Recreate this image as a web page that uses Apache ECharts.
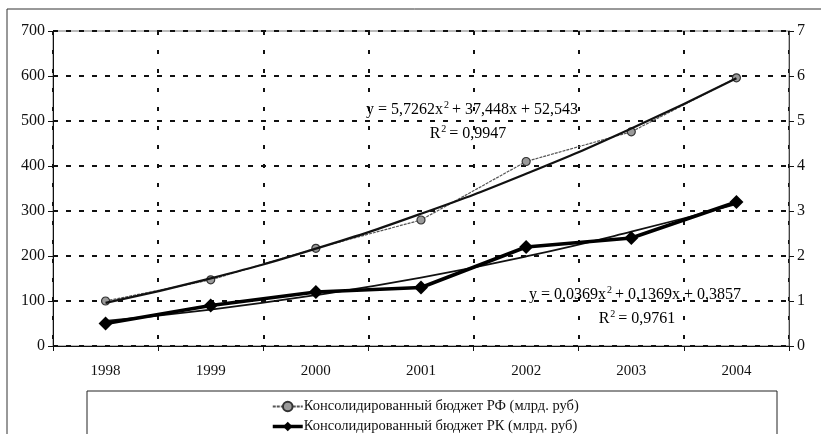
<!DOCTYPE html>
<html>
<head>
<meta http-equiv="Content-Type" content="text/html; charset=utf8">
<title>Бюджет РФ и РК</title>
<script src="https://cdn.jsdelivr.net/npm/echarts@6/dist/echarts.min.js"></script>
<style type="text/css">
html,body{margin:0;padding:0;background:#fff;}
#main{width:821px;height:434px;}
</style>
</head>
<body>
<div id="main"></div>
<script>
// данные
var years = ['1998', '1999', '2000', '2001', '2002', '2003', '2004'];
var budgetRF = [100, 147, 217, 280, 410, 476, 596]; // млрд. руб, левая ось
var budgetRK = [0.5, 0.9, 1.2, 1.3, 2.2, 2.4, 3.2]; // млрд. руб, правая ось
// полиномиальные линии тренда (значения)
var trendRF = [95.7, 150.3, 216.4, 293.9, 382.9, 483.4, 595.2];
var trendRK = [0.56, 0.81, 1.13, 1.52, 1.99, 2.54, 3.15];
var leftTicks = [0, 700, 100];
var rightTicks = [0, 7, 1];

var nameRF = 'Консолидированный бюджет РФ (млрд. руб)';
var nameRK = 'Консолидированный бюджет РК (млрд. руб)';
var font = '"Liberation Serif", "DejaVu Serif", serif';

var chart = echarts.init(document.getElementById('main'));

// подписи уравнений с верхним индексом
var supRich = {
	t: {fontSize: 16, fontFamily: font, color: '#111'},
	s: {fontSize: 10, fontFamily: font, color: '#111', padding: [0, 3, 9, 1]}
};
function eqText(x, y, str) {
	return {
		type: 'text', silent: true, x: x, y: y, z: 10,
		style: {text: str, rich: supRich, align: 'center', verticalAlign: 'middle'}
	};
}

var option = {
	animation: false,
	textStyle: {fontFamily: font},
	grid: {
		left: 53, right: 32, top: 31, bottom: 88,
		show: true, borderColor: '#777', borderWidth: 1
	},
	xAxis: {
		type: 'category',
		data: years,
		boundaryGap: true,
		axisLine: {lineStyle: {color: '#111', width: 1}},
		axisTick: {show: true, interval: 0, length: 5, lineStyle: {color: '#111'}},
		axisLabel: {color: '#111', fontSize: 15, fontFamily: font, margin: 18},
		splitLine: {show: true, interval: 0, lineStyle: {color: '#111', width: 2, type: [4, 15]}}
	},
	yAxis: [{
		type: 'value',
		min: leftTicks[0], max: leftTicks[1], interval: leftTicks[2],
		axisLine: {show: true, lineStyle: {color: '#111'}},
		axisTick: {show: true, length: 5, lineStyle: {color: '#111'}},
		axisLabel: {color: '#111', fontSize: 16, fontFamily: font, margin: 8},
		splitLine: {show: true, lineStyle: {color: '#111', width: 2, type: [5, 8]}}
	}, {
		type: 'value',
		position: 'right',
		min: rightTicks[0], max: rightTicks[1], interval: rightTicks[2],
		axisLine: {show: true, lineStyle: {color: '#444'}},
		axisTick: {show: true, length: 5, lineStyle: {color: '#111'}},
		axisLabel: {color: '#111', fontSize: 16, fontFamily: font, margin: 8},
		splitLine: {show: false}
	}],
	legend: {
		orient: 'vertical',
		left: 271, top: 399,
		width: 500, height: 60,
		padding: 0,
		itemGap: 5,
		itemWidth: 30, itemHeight: 12,
		data: [
			{name: nameRF},
			{name: nameRK, lineStyle: {width: 3.5}}
		],
		textStyle: {color: '#111', fontSize: 14.5, fontFamily: font, padding: [0, 0, 0, -4]}
	},
	series: [{
		name: nameRF,
		type: 'line',
		data: budgetRF,
		yAxisIndex: 0,
		symbol: 'circle', symbolSize: 8,
		lineStyle: {color: '#555', width: 1.2, type: [3, 1]},
		itemStyle: {color: '#9a9a9a', borderColor: '#333', borderWidth: 1.2},
		z: 2
	}, {
		name: 'trendRF',
		type: 'line',
		data: trendRF,
		yAxisIndex: 0,
		smooth: 0.5,
		showSymbol: false,
		lineStyle: {color: '#111', width: 2.2},
		z: 3
	}, {
		name: nameRK,
		type: 'line',
		data: budgetRK,
		yAxisIndex: 1,
		symbol: 'diamond', symbolSize: 14,
		lineStyle: {color: '#000', width: 3.5},
		itemStyle: {color: '#000'},
		z: 4
	}, {
		name: 'trendRK',
		type: 'line',
		data: trendRK,
		yAxisIndex: 1,
		smooth: 0.5,
		showSymbol: false,
		lineStyle: {color: '#111', width: 1.8},
		z: 3
	}],
	graphic: [
		{ // рамка диаграммы
			type: 'rect', silent: true, z: -1,
			shape: {x: 7, y: 9, width: 840, height: 460},
			style: {fill: 'none', stroke: '#333', lineWidth: 1}
		},
		{ // рамка легенды
			type: 'rect', silent: true,
			shape: {x: 87, y: 391, width: 690, height: 60},
			style: {fill: '#fff', stroke: '#222', lineWidth: 1}
		},
		eqText(472, 110, '{t|y = 5,7262x}{s|2}{t|+ 37,448x + 52,543}'),
		eqText(468, 134, '{t|R}{s|2}{t|= 0,9947}'),
		eqText(635, 295, '{t|y = 0,0369x}{s|2}{t|+ 0,1369x + 0,3857}'),
		eqText(637, 319, '{t|R}{s|2}{t|= 0,9761}')
	]
};

chart.setOption(option);
</script>
</body>
</html>
